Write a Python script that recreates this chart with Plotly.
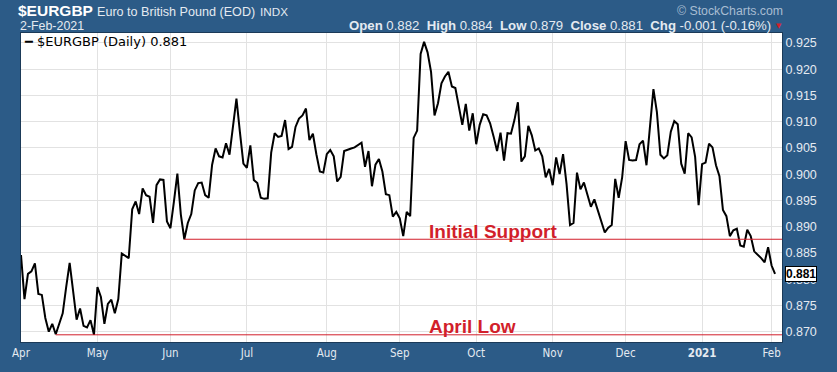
import plotly.graph_objects as go
import pandas as pd

# ---------------- data ----------------
start_date, end_date = "2020-04-01", "2021-02-02"
holidays = ["2020-12-25", "2021-01-01"]
dates = [d for d in pd.bdate_range(start_date, end_date) if d.strftime("%Y-%m-%d") not in holidays]

close_apr_may = [0.8846, 0.8762, 0.8810, 0.8815, 0.8830, 0.8772, 0.8770, 0.8726, 0.8700, 0.8715,
                 0.8695, 0.8717, 0.8735, 0.8785, 0.8831, 0.8777, 0.8723, 0.8744, 0.8711, 0.8708,
                 0.8722, 0.8694, 0.8785, 0.8766, 0.8715, 0.8753, 0.8761, 0.8735, 0.8762, 0.8849,
                 0.8845, 0.8840, 0.8933, 0.8948, 0.8924, 0.8973]
close_may_jul = [0.8960, 0.8957, 0.8907, 0.8979, 0.8990, 0.8989, 0.8910, 0.8897, 0.8947, 0.9001,
                 0.8923, 0.8876, 0.8907, 0.8924, 0.8969, 0.8983, 0.8984, 0.8960, 0.8955, 0.9018,
                 0.9049, 0.9034, 0.9032, 0.9059, 0.9037, 0.9090, 0.9144, 0.9080, 0.9020, 0.9012,
                 0.9055, 0.8989, 0.8983, 0.8955, 0.8953, 0.8954]
close_jul_aug = [0.9041, 0.9078, 0.9071, 0.9073, 0.9103, 0.9048, 0.9052, 0.9090, 0.9106, 0.9112,
                 0.9125, 0.9065, 0.9077, 0.9038, 0.9005, 0.9003, 0.9038, 0.9046, 0.9034, 0.8986,
                 0.8995, 0.9044, 0.9047, 0.9049, 0.9051, 0.9055, 0.9060, 0.9014, 0.9044, 0.8977,
                 0.9018, 0.9029, 0.9005, 0.8962, 0.8960, 0.8919]
close_sep_oct = [0.8928, 0.8916, 0.8882, 0.8928, 0.8920, 0.9069, 0.9083, 0.9229, 0.9252, 0.9232,
                 0.9195, 0.9112, 0.9135, 0.9173, 0.9186, 0.9195, 0.9167, 0.9164, 0.9130, 0.9094,
                 0.9134, 0.9083, 0.9116, 0.9057, 0.9094, 0.9114, 0.9112, 0.9097, 0.9072, 0.9044,
                 0.9079, 0.9026, 0.9078, 0.9077, 0.9103, 0.9137]
close_oct_dec = [0.9024, 0.9034, 0.9092, 0.9074, 0.9045, 0.9049, 0.9034, 0.8994, 0.9010, 0.8979,
                 0.9032, 0.9000, 0.9038, 0.8981, 0.8903, 0.8907, 0.9003, 0.8971, 0.8984, 0.8960,
                 0.8938, 0.8952, 0.8930, 0.8910, 0.8889, 0.8898, 0.8903, 0.8991, 0.8955, 0.8994,
                 0.9063, 0.9027, 0.9026, 0.9027, 0.9057, 0.9064]
close_dec_feb = [0.9017, 0.9090, 0.9162, 0.9118, 0.9037, 0.9030, 0.9036, 0.9081, 0.9101, 0.9095,
                 0.9020, 0.9001, 0.9078, 0.9070, 0.9033, 0.8941, 0.9019, 0.9022, 0.9058, 0.9051,
                 0.9017, 0.8996, 0.8932, 0.8920, 0.8882, 0.8893, 0.8896, 0.8864, 0.8862, 0.8894,
                 0.8882, 0.8853, 0.8847, 0.8840, 0.8832, 0.8861, 0.8826, 0.8810]
close = close_apr_may + close_may_jul + close_jul_aug + close_sep_oct + close_oct_dec + close_dec_feb
assert len(close) == len(dates), (len(close), len(dates))

month_labels = ["Apr", "May", "Jun", "Jul", "Aug", "Sep", "Oct", "Nov", "Dec", "<b>2021</b>", "Feb"]
support_level, support_start = 0.8876, "2020-06-05"
april_low_level, april_low_start = 0.8694, "2020-04-15"
x_end = "2021-02-04"
header_values = {"Open": "0.882", "High": "0.884", "Low": "0.879", "Close": "0.881", "Chg": "-0.001 (-0.16%)"}

# ---------------- figure ----------------
W, H = 837, 372
ML, MR, MT, MB = 19, 55, 33, 19
PW, PH = W - ML - MR, H - MT - MB
def px(xp):
    return (xp - ML) / PW
def py(yp):
    return (H - MB - yp) / PH

BG = "#2c5b87"
LIGHT = "#e4eaf1"
RED = "#d21f2b"
SANS = "Liberation Sans, Arial, sans-serif"
NARROW = "DejaVu Sans Condensed, Liberation Sans Narrow, Liberation Sans, sans-serif"

tick_dates = []
seen = set()
for d in dates:
    key = (d.year, d.month)
    if key not in seen:
        seen.add(key)
        tick_dates.append(d)

fig = go.Figure()
fig.add_trace(go.Scatter(x=dates, y=close, mode="lines", line=dict(color="black", width=2),
                         showlegend=False, hoverinfo="skip"))
fig.add_trace(go.Scatter(x=[support_start, x_end], y=[support_level, support_level], mode="lines",
                         line=dict(color=RED, width=1), showlegend=False, hoverinfo="skip"))
fig.add_trace(go.Scatter(x=[april_low_start, x_end], y=[april_low_level, april_low_level], mode="lines",
                         line=dict(color=RED, width=1), showlegend=False, hoverinfo="skip"))

ann = []
ann.append(dict(text="<b>$EURGBP</b>", xref="paper", yref="paper", x=px(14), y=py(10), xanchor="left",
                yanchor="middle", showarrow=False, font=dict(family=SANS, size=15.5, color="white")))
ann.append(dict(text="Euro to British Pound (EOD)", xref="paper", yref="paper", x=px(93), y=py(11), xanchor="left",
                yanchor="middle", showarrow=False, font=dict(family=SANS, size=12.6, color=LIGHT)))
ann.append(dict(text="INDX", xref="paper", yref="paper", x=px(257), y=py(11), xanchor="left",
                yanchor="middle", showarrow=False, font=dict(family=SANS, size=11.7, color=LIGHT)))
ann.append(dict(text="2-Feb-2021", xref="paper", yref="paper", x=px(16), y=py(26), xanchor="left",
                yanchor="middle", showarrow=False, font=dict(family=SANS, size=12.4, color=LIGHT)))
hdr = "  ".join(f"<b>{k}</b> {v}" for k, v in header_values.items())
ann.append(dict(text=hdr, xref="paper", yref="paper", x=px(773), y=py(25), xanchor="right",
                yanchor="middle", showarrow=False, font=dict(family=SANS, size=13.2, color=LIGHT)))
ann.append(dict(text="▼", xref="paper", yref="paper", x=px(774), y=py(26), xanchor="left",
                yanchor="middle", showarrow=False, font=dict(family="DejaVu Sans", size=7, color=RED)))
ann.append(dict(text="© StockCharts.com", xref="paper", yref="paper", x=px(785), y=py(10), xanchor="right",
                yanchor="middle", showarrow=False, font=dict(family=SANS, size=12.3, color="#a8bdd2")))
ann.append(dict(text="<b>━</b> $EURGBP (Daily) 0.881", xref="paper", yref="paper", x=px(20), y=py(42),
                xanchor="left", yanchor="middle", showarrow=False,
                font=dict(family="DejaVu Sans", size=13, color="black")))
ann.append(dict(text="<b>Initial Support</b>", xref="paper", yref="y", x=px(426), y=support_level,
                xanchor="left", yanchor="bottom", yshift=-5, showarrow=False,
                font=dict(family=SANS, size=19, color=RED)))
ann.append(dict(text="<b>April Low</b>", xref="paper", yref="y", x=px(426), y=april_low_level,
                xanchor="left", yanchor="bottom", yshift=-4, showarrow=False,
                font=dict(family=SANS, size=19, color=RED)))
ann.append(dict(text="<b>0.881</b>", xref="paper", yref="y", x=px(785), y=close[-1],
                xanchor="left", yanchor="middle", showarrow=False, bgcolor="white",
                bordercolor="black", borderwidth=1, borderpad=0,
                font=dict(family=SANS, size=12, color="black")))

fig.update_layout(
    width=W, height=H, margin=dict(l=ML, r=MR, t=MT, b=MB),
    paper_bgcolor=BG, plot_bgcolor="white",
    annotations=ann,
    xaxis=dict(type="date", range=[start_date, x_end],
               rangebreaks=[dict(bounds=["sat", "mon"]), dict(values=holidays)],
               tickvals=tick_dates, ticktext=month_labels,
               showgrid=True, gridcolor="#e2e2e2", gridwidth=1,
               tickfont=dict(family=NARROW, size=11.5, color=LIGHT),
               showline=True, linecolor="#1b3a58", linewidth=1, mirror=True, zeroline=False),
    yaxis=dict(side="right", range=[0.86803, 0.92689], tick0=0.870, dtick=0.005, tickformat=".3f",
               showgrid=True, gridcolor="#e2e2e2", gridwidth=1,
               tickfont=dict(family=SANS, size=12.5, color=LIGHT),
               showline=True, linecolor="#1b3a58", linewidth=1, mirror=True, zeroline=False),
)

fig.write_html("out.html")
